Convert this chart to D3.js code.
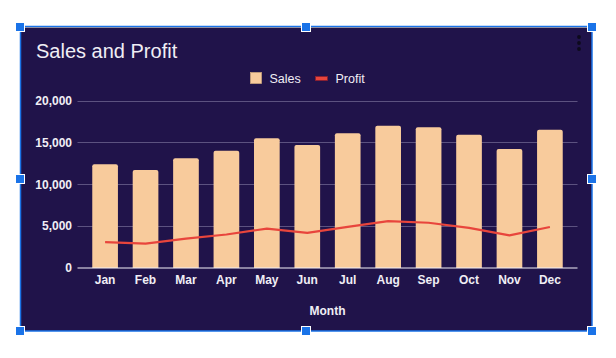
<!DOCTYPE html>
<html>
<head>
<meta charset="utf-8">
<script src="https://cdn.jsdelivr.net/npm/d3@7"></script>
<style>
  html, body { margin: 0; padding: 0; background: #ffffff; }
  svg { display: block; }
  text { font-family: "Liberation Sans", Arial, sans-serif; }
</style>
</head>
<body>
<svg id="chart" width="616" height="358"></svg>
<script>
const months = ["Jan","Feb","Mar","Apr","May","Jun","Jul","Aug","Sep","Oct","Nov","Dec"];
const sales = [12400, 11700, 13100, 14000, 15500, 14700, 16100, 17000, 16800, 15900, 14200, 16500];
const profit = [3100, 2900, 3500, 4000, 4700, 4200, 4900, 5600, 5400, 4800, 3900, 4900];
const yTicks = [0, 5000, 10000, 15000, 20000];
const chartTitle = "Sales and Profit";
const xAxisTitle = "Month";
const seriesNames = ["Sales", "Profit"];

const svg = d3.select("#chart");
const bg = "#20134a";
const barColor = "#f8cb9c";
const lineColor = "#e8453c";
const textColor = "#f0eef5";

// container
svg.append("rect").attr("x", 20.5).attr("y", 26.5).attr("width", 571.5).attr("height", 304.5)
  .attr("fill", bg).attr("stroke", "#1a73e8").attr("stroke-width", 1.5);
svg.append("line").attr("x1", 21).attr("x2", 591).attr("y1", 27.5).attr("y2", 27.5)
  .attr("stroke", "#8d90a6").attr("stroke-width", 1);

const x = d3.scaleBand().domain(months).range([77.5, 577.5]).paddingInner(0.365).paddingOuter(0.365);
const y = d3.scaleLinear().domain([0, 20000]).range([268, 100.5]);

// gridlines
svg.append("g").selectAll("line").data(yTicks.filter(d => d !== 0)).join("line")
  .attr("x1", 77.5).attr("x2", 577.5)
  .attr("y1", d => Math.round(y(d)) + 0.5).attr("y2", d => Math.round(y(d)) + 0.5)
  .attr("stroke", "#5c5280").attr("stroke-width", 1);

// y axis labels
const fmt = d3.format(",");
svg.append("g").selectAll("text").data(yTicks).join("text")
  .attr("x", 72).attr("y", d => y(d) + 4.3)
  .attr("text-anchor", "end").attr("font-size", 12).attr("font-weight", "bold")
  .attr("fill", textColor).text(d => fmt(d));

// bars with rounded tops
const r = 2;
svg.append("g").selectAll("path").data(months).join("path")
  .attr("fill", barColor)
  .attr("d", (m, i) => {
    const x0 = x(m), w = x.bandwidth(), y0 = y(sales[i]), yb = y(0);
    return `M${x0},${yb}V${y0 + r}Q${x0},${y0} ${x0 + r},${y0}H${x0 + w - r}Q${x0 + w},${y0} ${x0 + w},${y0 + r}V${yb}Z`;
  });

// baseline
svg.append("line").attr("x1", 77.5).attr("x2", 577.5).attr("y1", y(0)).attr("y2", y(0))
  .attr("stroke", "#f4f2f8").attr("stroke-width", 1.2);

// profit line
const line = d3.line().x((d, i) => x(months[i]) + x.bandwidth() / 2).y(d => y(d));
svg.append("path").datum(profit).attr("d", line)
  .attr("fill", "none").attr("stroke", lineColor).attr("stroke-width", 2.2)
  .attr("stroke-linejoin", "round");

// x axis labels
svg.append("g").selectAll("text").data(months).join("text")
  .attr("x", m => x(m) + x.bandwidth() / 2).attr("y", 284)
  .attr("text-anchor", "middle").attr("font-size", 12).attr("font-weight", "bold")
  .attr("fill", textColor).text(m => m);

// x axis title
svg.append("text").attr("x", 327.5).attr("y", 315)
  .attr("text-anchor", "middle").attr("font-size", 12).attr("font-weight", "bold")
  .attr("fill", textColor).text(xAxisTitle);

// title
svg.append("text").attr("x", 36).attr("y", 57.5).attr("font-size", 20)
  .attr("fill", textColor).text(chartTitle);

// legend
svg.append("rect").attr("x", 250.5).attr("y", 72.5).attr("width", 11).attr("height", 11)
  .attr("fill", barColor).attr("stroke", "#c9a27c").attr("stroke-width", 0.8);
svg.append("text").attr("x", 269.5).attr("y", 83).attr("font-size", 12.5)
  .attr("fill", textColor).text(seriesNames[0]);
svg.append("rect").attr("x", 315.5).attr("y", 76.5).attr("width", 12).attr("height", 4)
  .attr("fill", lineColor).attr("stroke", "#8a2030").attr("stroke-width", 0.8);
svg.append("text").attr("x", 335.5).attr("y", 83).attr("font-size", 12.5)
  .attr("fill", textColor).text(seriesNames[1]);

// menu dots
svg.append("g").selectAll("circle").data([37, 43, 49]).join("circle")
  .attr("cx", 579).attr("cy", d => d).attr("r", 1.9).attr("fill", "#0d0a1c");

// selection handles
const handles = [[20, 27], [306, 27], [592, 27], [20, 179], [592, 179], [20, 331], [306, 331], [592, 331]];
svg.append("g").selectAll("rect").data(handles).join("rect")
  .attr("x", d => d[0] - 4.5).attr("y", d => d[1] - 4.5).attr("width", 9).attr("height", 9)
  .attr("fill", "#1a73e8").attr("stroke", "#ffffff").attr("stroke-width", 1);
</script>
</body>
</html>
